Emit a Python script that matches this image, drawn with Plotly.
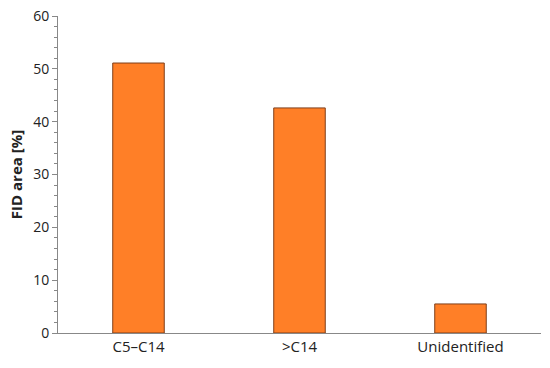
import plotly.graph_objects as go

categories = ["C5\u2013C14", ">C14", "Unidentified"]
fid_area = [51.1, 42.6, 5.5]
y_ticks = [0, 10, 20, 30, 40, 50, 60]

fig = go.Figure(go.Bar(
    x=categories,
    y=fid_area,
    width=0.32,
    marker=dict(color="#FF7F27", line=dict(color="#7F3F1A", width=1)),
))

fig.update_layout(
    width=550, height=368,
    margin=dict(l=58, r=9, t=16, b=35),
    plot_bgcolor="white", paper_bgcolor="white",
    font=dict(family="Open Sans, Liberation Sans, sans-serif", size=14, color="#222"),
    showlegend=False,
    xaxis=dict(showline=True, linecolor="#888", linewidth=1, ticks="",
               tickfont=dict(size=15), automargin=False),
    yaxis=dict(range=[0, 60], tickvals=y_ticks, showline=True, linecolor="#888",
               linewidth=1, ticks="outside", ticklen=5, tickcolor="#888",
               showgrid=False, zeroline=False, tickfont=dict(size=14),
               automargin=False,
               minor=dict(dtick=2, ticks="outside", ticklen=3, tickcolor="#888"),
               title=dict(text="<b>FID area [%]</b>", font=dict(size=15), standoff=6)),
)

# drop the browser's default 8px body margin so the figure sits at the page corner
fig.write_html("out.html", config={"displayModeBar": False},
               post_script="document.body.style.margin='0';")
